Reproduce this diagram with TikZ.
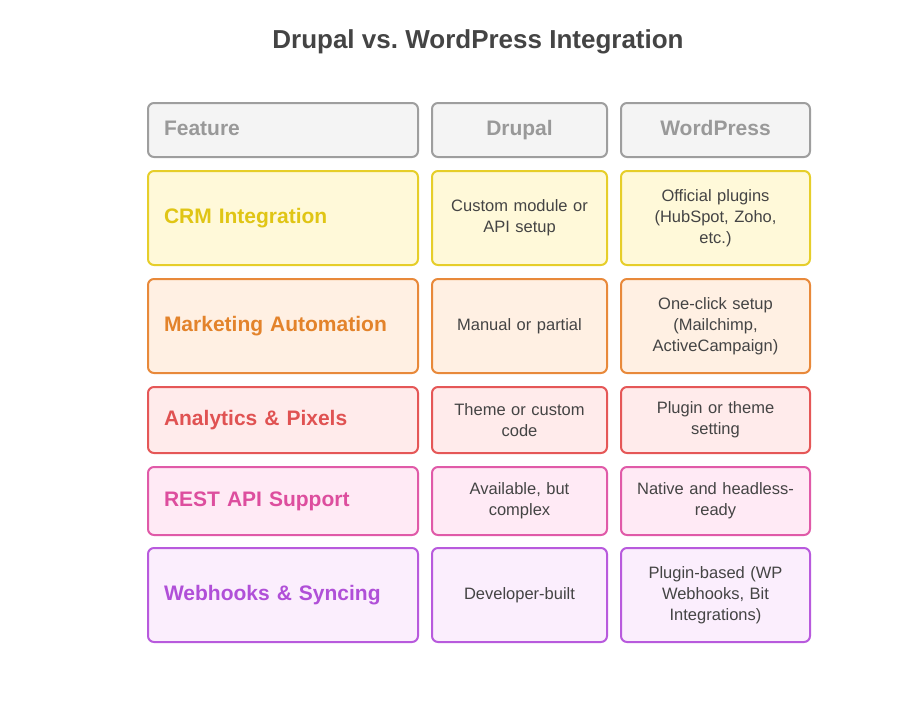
\documentclass[tikz,border=0pt]{standalone}
\usepackage{fontspec}
\setmainfont{Liberation Sans}
\frenchspacing
\usetikzlibrary{positioning}
\definecolor{hdfill}{HTML}{F4F4F4}\definecolor{hdline}{HTML}{9E9E9E}\definecolor{hdtext}{HTML}{999999}
\definecolor{crmfill}{HTML}{FFF9D9}\definecolor{crmline}{HTML}{E6CE2A}\definecolor{crmtext}{HTML}{E0C515}
\definecolor{mkfill}{HTML}{FFF0E3}\definecolor{mkline}{HTML}{E8893A}\definecolor{mktext}{HTML}{E3832B}
\definecolor{anfill}{HTML}{FFEBEB}\definecolor{anline}{HTML}{E55757}\definecolor{antext}{HTML}{E05252}
\definecolor{rsfill}{HTML}{FFEAF5}\definecolor{rsline}{HTML}{E05AA8}\definecolor{rstext}{HTML}{DD4E9E}
\definecolor{whfill}{HTML}{FBEEFD}\definecolor{whline}{HTML}{B85ADD}\definecolor{whtext}{HTML}{B04FD8}
\definecolor{bodytext}{HTML}{444444}
\tikzset{
  cell/.style={draw, line width=2pt, rounded corners=6pt, inner xsep=8pt, inner ysep=0pt, align=center,
    font=\fontsize{16.5}{21}\selectfont, text=bodytext},
  featcell/.style={cell, align=left, inner xsep=16pt, text width=238pt, font=\fontsize{21}{25}\selectfont\bfseries},
  hdtxt/.style={font=\fontsize{21}{25}\selectfont\bfseries, text=hdtext, text height=15pt, text depth=4pt},
  c1/.style={featcell, minimum width=270pt},
  c2/.style={cell, minimum width=175pt, text width=159pt},
  c3/.style={cell, minimum width=189pt, text width=173pt},
  hd/.style={fill=hdfill, draw=hdline},
  crm/.style={fill=crmfill, draw=crmline},
  mk/.style={fill=mkfill, draw=mkline},
  an/.style={fill=anfill, draw=anline},
  rs/.style={fill=rsfill, draw=rsline},
  wh/.style={fill=whfill, draw=whline},
}
\begin{document}
\begin{tikzpicture}[x=1pt,y=-1pt]
\useasboundingbox (0,0) rectangle (921,717);
\node[font=\fontsize{26}{30}\selectfont\bfseries, text=bodytext] (title) at (478,42) {Drupal vs. WordPress Integration};
% header
\node[c1, hd, minimum height=54pt, hdtxt] (h1) at (283,130) {Feature};
\node[c2, hd, minimum height=54pt, hdtxt] (h2) at (519.5,130) {Drupal};
\node[c3, hd, minimum height=54pt, hdtxt] (h3) at (715.5,130) {WordPress};
% CRM
\node[c1, crm, minimum height=94pt, text=crmtext] (r1a) at (283,218) {CRM Integration};
\node[c2, crm, minimum height=94pt] (r1b) at (519.5,218) {Custom module or\\API setup};
\node[c3, crm, minimum height=94pt] (r1c) at (715.5,218) {Official plugins\\(HubSpot, Zoho,\\etc.)};
% Marketing
\node[c1, mk, minimum height=94pt, text=mktext] (r2a) at (283,326) {Marketing Automation};
\node[c2, mk, minimum height=94pt] (r2b) at (519.5,326) {Manual or partial};
\node[c3, mk, minimum height=94pt] (r2c) at (715.5,326) {One-click setup\\(Mailchimp,\\ActiveCampaign)};
% Analytics
\node[c1, an, minimum height=66pt, text=antext] (r3a) at (283,420) {Analytics \& Pixels};
\node[c2, an, minimum height=66pt] (r3b) at (519.5,420) {Theme or custom\\code};
\node[c3, an, minimum height=66pt] (r3c) at (715.5,420) {Plugin or theme\\setting};
% REST
\node[c1, rs, minimum height=68pt, text=rstext] (r4a) at (283,501) {REST API Support};
\node[c2, rs, minimum height=68pt] (r4b) at (519.5,501) {Available, but\\complex};
\node[c3, rs, minimum height=68pt] (r4c) at (715.5,501) {Native and headless-\\ready};
% Webhooks
\node[c1, wh, minimum height=94pt, text=whtext] (r5a) at (283,595) {Webhooks \& Syncing};
\node[c2, wh, minimum height=94pt] (r5b) at (519.5,595) {Developer-built};
\node[c3, wh, minimum height=94pt] (r5c) at (715.5,595) {Plugin-based (WP\\Webhooks, Bit\\Integrations)};
\end{tikzpicture}
\end{document}
